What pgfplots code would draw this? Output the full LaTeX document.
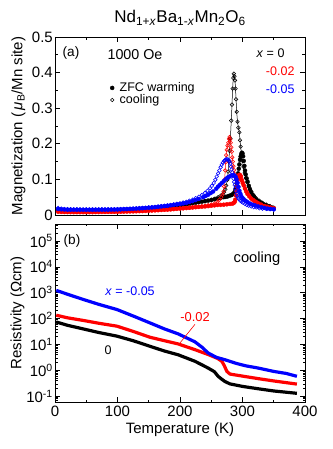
\documentclass[border=0pt]{standalone}
\usepackage{fontspec}
\setmainfont{Liberation Sans}
\usepackage{pgfplots}
\pgfplotsset{compat=1.18}
\definecolor{myred}{RGB}{255,0,0}
\definecolor{myblue}{RGB}{0,0,255}
\begin{document}
\begin{tikzpicture}
\useasboundingbox (-55pt,-47pt) rectangle (277pt,402pt);
\pgfplotsset{
 every axis/.append style={
  scale only axis, width=250pt, height=178pt,
  tick align=inside,
  xmin=0,xmax=400,
  xtick={0,100,200,300,400}, minor xtick={50,150,250,350},
  /pgf/number format/assume math mode=true,
  ticklabel style={font=\fontsize{15}{18}\selectfont},
  yticklabel style={inner xsep=2pt},
  label style={font=\fontsize{15}{18}\selectfont},
  major tick length=5pt, minor tick length=3pt,
  every tick/.style={black, line width=0.6pt},
  axis line style={line width=0.8pt},
 },
 fil/.style={only marks, mark=*, mark size=2pt},
 opn/.style={mark=o, mark size=1.8pt, mark options={line width=0.55pt}},
}
% ---------------- top panel
\begin{axis}[at={(0pt,187pt)}, anchor=south west,
  ymin=0, ymax=0.5,
  ytick={0,0.1,0.2,0.3,0.4,0.5}, yticklabels={0,0.1,0.2,0.3,0.4,0.5},
  minor ytick={0.05,0.15,0.25,0.35,0.45},
  xticklabels={},
  ylabel={Magnetization (\,\textit{μ}\textsubscript{B}/Mn site)},
  ylabel style={at={(axis description cs:-0.146,0.5)}, anchor=center},
  title={Nd\textsubscript{1+\textit{x}}Ba\textsubscript{1-\textit{x}}Mn\textsubscript{2}O\textsubscript{6}},
  title style={font=\fontsize{17}{20}\selectfont, at={(axis description cs:0.5,1.075)}, anchor=center},
  legend image code/.code={\draw[#1] plot coordinates {(0pt,0pt)};},
  legend style={draw=none, fill=none, at={(axis description cs:0.22,0.68)}, anchor=west,
    font=\fontsize{12.5}{14}\selectfont, row sep=-2.5pt, inner sep=0pt},
  legend cell align=left,
]
\addlegendimage{fil, black}
\addlegendentry{\hspace{3.5pt}ZFC warming}
\addlegendimage{opn, black, only marks}
\addlegendentry{\hspace{3.5pt}cooling}
% black ZFC warming
\addplot[fil, black] coordinates {
(5,.013)(10,.0125)(15,.012)(20,.012)(25,.012)(30,.012)(35,.012)(40,.012)(45,.012)(50,.012)(55,.012)(60,.0122)(65,.0124)(70,.0126)(75,.0128)(80,.013)(85,.0132)(90,.0134)(95,.0136)(100,.0138)(105,.014)(110,.0143)(115,.0146)(120,.015)(125,.0155)(130,.016)(135,.0165)(140,.017)(145,.0175)(150,.018)(155,.0187)(160,.0194)(165,.020)(170,.021)(175,.022)(180,.023)(185,.024)(190,.025)(195,.026)(200,.027)(205,.0285)(210,.030)(215,.0315)(220,.033)(225,.0345)(230,.036)(235,.0375)(240,.039)(245,.0405)(250,.042)(255,.044)(260,.046)(265,.048)(270,.050)(273,.051)(276,.052)(279,.054)(282,.056)(284,.058)(286,.061)(288,.066)(289,.072)(290,.080)(291,.09)(292,.103)(293,.117)(294,.13)(295,.142)(296,.155)(297,.164)(298,.171)(299,.175)(300,.173)(301,.165)(302,.152)(303,.138)(304,.125)(305,.114)(306.5,.103)(308,.094)(310,.082)(312,.072)(314,.064)(316,.057)(318,.052)(320,.047)(323,.042)(326,.038)(329,.035)(332,.032)(335,.029)(338,.027)(341,.025)(344,.023)(347,.021)(350,.019)
};
% black cooling
\addplot[opn, black, line width=0.5pt] coordinates {
(5,.013)(10,.013)(20,.012)(30,.012)(40,.012)(50,.012)(60,.012)(70,.013)(80,.013)(90,.013)(100,.014)(110,.014)(120,.015)(130,.016)(140,.017)(150,.018)(160,.019)(170,.021)(180,.023)(190,.025)(200,.027)(210,.030)(220,.033)(230,.036)(240,.039)(250,.043)(256,.046)(261,.05)(265,.054)(268,.058)(270.5,.064)(272.5,.072)(274,.083)(275.7,.099)(277,.122)(278,.15)(279.3,.18)(280.6,.215)(282,.265)(283.2,.31)(284.2,.355)(285.2,.385)(286.1,.397)(287.1,.39)(288,.378)(288.8,.355)(289.7,.325)(290.7,.29)(292,.262)(293.4,.245)(295,.232)(296,.21)(297,.192)(298.5,.17)(300,.152)(301.5,.135)(303.5,.118)(305.5,.104)(308,.091)(311,.077)(314,.066)(318,.055)(322,.047)(327,.04)(332,.034)(338,.029)(344,.025)(350,.021)
};
% red ZFC warming
\addplot[fil, myred] coordinates {
(5,.009)(10,.0085)(15,.0083)(20,.0082)(25,.0081)(30,.008)(35,.008)(40,.008)(45,.008)(50,.008)(55,.008)(60,.008)(65,.0082)(70,.0083)(75,.0084)(80,.0085)(85,.0086)(90,.0088)(95,.0089)(100,.009)(105,.0092)(110,.0095)(115,.0097)(120,.010)(125,.0102)(130,.0105)(135,.0108)(140,.011)(145,.0115)(150,.012)(155,.0125)(160,.013)(165,.0135)(170,.014)(175,.0145)(180,.015)(185,.0157)(190,.0165)(195,.0172)(200,.018)(205,.0187)(210,.0195)(215,.0202)(220,.021)(225,.0218)(230,.0225)(235,.0232)(240,.024)(245,.025)(250,.026)(255,.027)(260,.028)(265,.0285)(270,.029)(275,.030)(280,.031)(284,.032)(286,.034)(287.5,.037)(288.5,.043)(289.5,.055)(290.3,.068)(291,.08)(291.8,.092)(292.6,.101)(293.5,.108)(294.5,.112)(295.5,.113)(296.5,.111)(297.5,.107)(299,.098)(300.5,.09)(302,.083)(304,.074)(306,.066)(308,.059)(311,.052)(314,.046)(317,.042)(320,.038)(323,.035)(326,.032)(330,.029)(335,.025)(340,.023)(345,.021)(350,.019)
};
% red cooling
\addplot[opn, myred, line width=0.5pt] coordinates {
(5,.010)(10,.0095)(15,.0092)(20,.009)(25,.009)(30,.009)(35,.009)(40,.009)(45,.009)(50,.009)(55,.009)(60,.009)(65,.0091)(70,.0092)(75,.0093)(80,.0094)(85,.0095)(90,.0096)(95,.0098)(100,.010)(105,.0103)(110,.0106)(115,.011)(120,.0113)(125,.0117)(130,.012)(135,.0125)(140,.013)(145,.0135)(150,.014)(155,.0145)(160,.015)(165,.0155)(170,.016)(175,.0165)(180,.017)(185,.0175)(190,.018)(195,.0185)(200,.019)(205,.0198)(210,.0205)(215,.0212)(220,.022)(225,.023)(230,.024)(235,.025)(240,.026)(245,.0275)(250,.029)(255,.032)(260,.037)(263,.043)(266,.05)(268,.057)(269.5,.066)(270.5,.08)(271.5,.1)(272.3,.125)(273,.148)(273.8,.168)(274.7,.183)(276,.195)(277.3,.203)(278.3,.214)(279.2,.219)(280.2,.212)(281,.203)(282,.19)(282.8,.178)(283.6,.162)(284.4,.15)(285.4,.137)(286.4,.126)(287.5,.115)(288.8,.107)(290,.103)(291.5,.102)(293,.103)(294.5,.105)(296,.105)(298,.098)(300,.09)(302,.082)(304.5,.073)(307,.065)(310,.056)(314,.047)(318,.041)(322,.036)(327,.031)(332,.027)(338,.024)(344,.021)(350,.019)
};
% blue cooling
\addplot[opn, myblue, only marks] coordinates {
(5,.020)(10,.018)(15,.017)(20,.0165)(25,.016)(30,.016)(35,.016)(40,.0158)(45,.0158)(50,.0158)(55,.0158)(60,.0158)(65,.0159)(70,.0159)(75,.016)(80,.016)(85,.0161)(90,.0162)(95,.0163)(100,.0165)(105,.0168)(110,.0172)(115,.0176)(120,.018)(125,.0185)(130,.019)(135,.0195)(140,.020)(145,.0207)(150,.0215)(155,.0222)(160,.023)(165,.024)(170,.025)(175,.026)(180,.027)(185,.0285)(190,.030)(195,.0315)(200,.033)(205,.035)(210,.037)(215,.040)(220,.043)(225,.047)(230,.051)(235,.056)(240,.062)(244,.068)(248,.075)(251,.082)(254,.09)(256.5,.099)(258.7,.108)(261,.117)(263,.125)(265,.134)(266.7,.141)(268.5,.147)(270.3,.151)(272,.154)(273.5,.156)(275,.157)(276.5,.156)(278,.154)(279.3,.15)(280.5,.144)(281.5,.136)(282.5,.128)(283.5,.12)(284.5,.111)(285.5,.102)(286.5,.093)(287.5,.084)(288.5,.075)(289.5,.067)(290.5,.06)(291.7,.053)(293,.048)(294.5,.044)(296.5,.04)(298.7,.037)(301,.034)(304,.031)(307,.028)(310,.026)(314,.024)(318,.022)(322,.021)(327,.019)(332,.018)(338,.017)(344,.016)(350,.015)
};
% blue ZFC warming
\addplot[fil, myblue] coordinates {
(5,.017)(10,.016)(15,.0155)(20,.015)(25,.015)(30,.0149)(35,.0149)(40,.0148)(45,.0148)(50,.0148)(55,.0148)(60,.0148)(65,.0149)(70,.0149)(75,.015)(80,.015)(85,.0151)(90,.0152)(95,.0153)(100,.0155)(105,.0158)(110,.0162)(115,.0166)(120,.017)(125,.0175)(130,.018)(135,.0185)(140,.019)(145,.0197)(150,.0205)(155,.0212)(160,.022)(165,.023)(170,.024)(175,.025)(180,.026)(185,.0272)(190,.0285)(195,.0297)(200,.031)(205,.0325)(210,.034)(215,.0365)(220,.039)(225,.042)(230,.045)(237,.050)(241,.0535)(245,.057)(249,.0615)(253,.066)(258,.074)(261,.080)(264,.085)(267,.090)(270,.095)(273,.1)(275,.103)(277,.106)(279,.108)(282,.111)(285,.112)(287,.111)(289,.107)(290.5,.1)(292,.09)(293.5,.079)(295,.068)(296.5,.06)(298,.053)(300,.048)(302,.044)(305,.040)(308,.036)(312,.032)(316,.029)(320,.027)(325,.024)(330,.022)(335,.02)(340,.018)(345,.017)(350,.016)
};
\node[font=\fontsize{13.6}{16}\selectfont] at (axis description cs:0.064,0.91) {(a)};
\node[font=\fontsize{14.3}{17}\selectfont] at (axis description cs:0.32,0.899) {1000 Oe};
\node[font=\fontsize{12.5}{15}\selectfont, anchor=east] at (axis description cs:0.932,0.91) {\textit{x} = 0};
\node[font=\fontsize{12.5}{15}\selectfont, anchor=east, text=myred] at (axis description cs:0.972,0.809) {-0.02};
\node[font=\fontsize{12.5}{15}\selectfont, anchor=east, text=myblue] at (axis description cs:0.972,0.708) {-0.05};
\end{axis}
% ---------------- bottom panel
\begin{axis}[at={(0pt,0pt)}, anchor=south west,
  ymode=log, ymin=0.06, ymax=4.5e5,
  ytick={0.1,1,10,100,1000,10000,100000},
  yticklabels={10\textsuperscript{-1},10\textsuperscript{0},10\textsuperscript{1},10\textsuperscript{2},10\textsuperscript{3},10\textsuperscript{4},10\textsuperscript{5}},
  minor ytick={0.06,0.07,0.08,0.09,0.2,0.3,0.4,0.5,0.6,0.7,0.8,0.9,2,3,4,5,6,7,8,9,20,30,40,50,60,70,80,90,200,300,400,500,600,700,800,900,2000,3000,4000,5000,6000,7000,8000,9000,20000,30000,40000,50000,60000,70000,80000,90000,200000,300000,400000},
  minor tick length=2.5pt,
  xticklabels={0,100,200,300,400},
  xlabel={Temperature (K)},
  xlabel style={at={(axis description cs:0.5,-0.157)}, anchor=center},
  ylabel={Resistivity (Ωcm)},
  ylabel style={at={(axis description cs:-0.15,0.5)}, anchor=center},
]
\addplot[black, line width=3.2pt, line join=round] coordinates {
(2,74)(20,55)(45,40)(70,29)(99,21)(125,14)(152,8.5)(175,5.6)(197,4.0)(224,2.24)(245,1.23)(255,0.89)(261,0.59)(266,0.47)(272,0.37)(280,0.30)(300,0.24)(325,0.195)(350,0.16)(387,0.13)
};
\addplot[myred, line width=3.2pt, line join=round] coordinates {
(2,135)(20,107)(45,85)(70,66)(99,51)(125,32)(152,19)(175,14)(197,10.5)(224,6.3)(245,4.1)(260,2.9)(267,2.24)(271,1.5)(275,0.91)(280,0.72)(300,0.6)(325,0.48)(350,0.39)(387,0.295)
};
\addplot[myblue, line width=3.2pt, line join=round] coordinates {
(2,1230)(20,870)(45,550)(70,355)(99,224)(125,126)(152,68)(175,40)(197,25.7)(224,12.6)(235,7.9)(245,4.7)(258,3.2)(272,2.57)(290,1.86)(305,1.5)(325,1.23)(350,0.91)(370,0.76)(387,0.59)
};
\draw[myred, line width=0.6pt] (axis cs:224,60) -- (axis cs:200,11.5);
\node[font=\fontsize{13.6}{16}\selectfont] at (axis description cs:0.068,0.904) {(b)};
\node[font=\fontsize{14.7}{17}\selectfont] at (axis description cs:0.808,0.803) {cooling};
\node[font=\fontsize{12.5}{15}\selectfont, text=myblue] at (axis description cs:0.3,0.624) {\textit{x} = -0.05};
\node[font=\fontsize{12.9}{15}\selectfont, text=myred] at (axis description cs:0.56,0.478) {-0.02};
\node[font=\fontsize{12.5}{15}\selectfont] at (axis description cs:0.212,0.292) {0};
\end{axis}
\end{tikzpicture}
\end{document}
